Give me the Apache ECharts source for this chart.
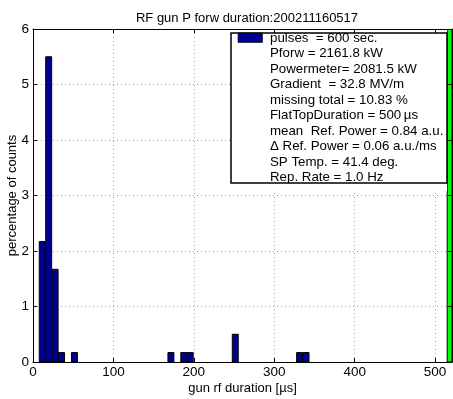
<!DOCTYPE html>
<html>
<head>
<meta charset="utf-8">
<script src="https://cdn.jsdelivr.net/npm/echarts@6/dist/echarts.min.js"></script>
<style>html,body{margin:0;padding:0;background:#fff}#c{width:453px;height:399px}</style>
</head>
<body>
<div id="c"></div>
<script>
// ---- data ----
const titleText = 'RF gun P forw duration:200211160517';
const xAxisName = 'gun rf duration [\u00b5s]';
const yAxisName = 'percentage of counts';
const binCenters = [11.5, 19.5, 27.5, 35.5, 51.5, 171.5, 187.5, 195.5, 251.5, 331.5, 339.5];
const percentOfCounts = [2.17, 5.5, 1.67, 0.17, 0.17, 0.17, 0.17, 0.17, 0.5, 0.17, 0.17];
const flatTopStart = [515];
const flatTopEnd = [521];
const flatTopHeight = [6];
const legendLines = [
  'pulses  = 600 sec.',
  'Pforw = 2161.8 kW',
  'Powermeter= 2081.5 kW',
  'Gradient  = 32.8 MV/m',
  'missing total = 10.83 %',
  'FlatTopDuration = 500\u2009\u00b5s',
  'mean  Ref. Power = 0.84 a.u.',
  '\u0394 Ref. Power = 0.06 a.u./ms',
  'SP Temp. = 41.4 deg.',
  'Rep. Rate = 1.0 Hz'
];
const xMin = 0, xMax = 521, xInterval = 100;
const yMin = 0, yMax = 6, yInterval = 1;

// ---- chart ----
const FONT = 'Liberation Sans, Arial, Helvetica, sans-serif';
const chart = echarts.init(document.getElementById('c'), null, {renderer: 'canvas'});
const halfBar = 3.7;
const barData = binCenters.map((c, i) => [c, percentOfCounts[i]]);
const flatData = flatTopStart.map((s, i) => [s, flatTopEnd[i], flatTopHeight[i]]);

const gridLine = {show: true, lineStyle: {color: '#a8a8a8', type: [1, 3], width: 1}};
const axisCommon = {
  min: xMin, max: xMax, interval: xInterval,
  axisLine: {show: true, onZero: false, lineStyle: {color: '#000', width: 1}},
  axisTick: {show: true, inside: true, length: 4, lineStyle: {color: '#000'}},
};

const graphics = [];
const boxL = 231, boxT = 33, boxW = 216, boxH = 150;
graphics.push({type: 'rect', z: 5, shape: {x: boxL, y: boxT, width: boxW, height: boxH}, style: {fill: '#fff', stroke: null}});
legendLines.forEach((t, i) => {
  graphics.push({type: 'text', z: 6, x: 270, y: 38 + i * 15.5,
    style: {text: t, fontSize: 13.3, fontFamily: FONT, fill: '#000', verticalAlign: 'middle', align: 'left'}});
});
// clip covers
graphics.push({type: 'rect', z: 7, shape: {x: boxL, y: 29.6, width: boxW, height: boxT - 29.6}, style: {fill: '#fff'}});
graphics.push({type: 'rect', z: 7, shape: {x: boxL, y: boxT + boxH, width: boxW, height: 8}, style: {fill: '#fff'}});
graphics.push({type: 'rect', z: 8, shape: {x: boxL, y: boxT, width: boxW, height: boxH}, style: {fill: null, stroke: '#000', lineWidth: 1.5}});
graphics.push({type: 'rect', z: 8, shape: {x: 238, y: boxT, width: 24.5, height: 9.5}, style: {fill: '#00008f', stroke: '#000', lineWidth: 0.6}});

chart.setOption({
  animation: false,
  backgroundColor: '#fff',
  title: {text: titleText, left: 242, top: 7, textAlign: 'center',
    textStyle: {fontSize: 13, fontWeight: 'normal', fontFamily: FONT, color: '#000'}},
  grid: {left: 33, top: 29, width: 419, height: 333, show: false, containLabel: false, outerBoundsMode: 'none'},
  xAxis: [
    Object.assign({}, axisCommon, {type: 'value', position: 'bottom',
      name: xAxisName, nameLocation: 'middle', nameGap: 20, nameMoveOverlap: false,
      nameTextStyle: {fontSize: 13, fontFamily: FONT, color: '#000'},
      axisLabel: {fontSize: 13.5, fontFamily: FONT, color: '#000', margin: 3, showMaxLabel: false},
      splitLine: gridLine}),
    Object.assign({}, axisCommon, {type: 'value', position: 'top', z: 10,
      axisLabel: {show: false}, splitLine: {show: false}})
  ],
  yAxis: [
    {type: 'value', position: 'left', min: yMin, max: yMax, interval: yInterval,
      name: yAxisName, nameLocation: 'middle', nameGap: 14, nameMoveOverlap: false,
      nameTextStyle: {fontSize: 13, fontFamily: FONT, color: '#000'},
      axisLine: {show: true, onZero: false, lineStyle: {color: '#000'}},
      axisTick: {show: true, inside: true, length: 4, lineStyle: {color: '#000'}},
      axisLabel: {fontSize: 13.5, fontFamily: FONT, color: '#000', margin: 4},
      splitLine: gridLine},
    {type: 'value', position: 'right', min: yMin, max: yMax, interval: yInterval, z: 10,
      axisLine: {show: true, onZero: false, lineStyle: {color: '#000'}},
      axisTick: {show: true, inside: true, length: 4, lineStyle: {color: '#000'}},
      axisLabel: {show: false}, splitLine: {show: false}}
  ],
  graphic: graphics,
  series: [
    {type: 'custom', clip: true, xAxisIndex: 0, yAxisIndex: 0, z: 2,
      data: barData,
      encode: {x: 0, y: 1},
      renderItem: function (params, api) {
        const c = api.value(0), h = api.value(1);
        const p0 = api.coord([c - halfBar, 0]);
        const p1 = api.coord([c + halfBar, h]);
        return {type: 'rect', shape: {x: p0[0], y: p1[1], width: p1[0] - p0[0], height: p0[1] - p1[1]},
          style: {fill: '#00008f', stroke: '#000', lineWidth: 1}};
      }},
    {type: 'custom', clip: true, xAxisIndex: 0, yAxisIndex: 0, z: 2,
      data: flatData,
      encode: {x: [0, 1], y: 2},
      renderItem: function (params, api) {
        const p0 = api.coord([api.value(0), 0]);
        const p1 = api.coord([api.value(1), api.value(2)]);
        return {type: 'rect', shape: {x: p0[0], y: p1[1], width: p1[0] - p0[0], height: p0[1] - p1[1]},
          style: {fill: '#00ff00', stroke: '#000', lineWidth: 1}};
      }}
  ]
});
</script>
</body>
</html>
